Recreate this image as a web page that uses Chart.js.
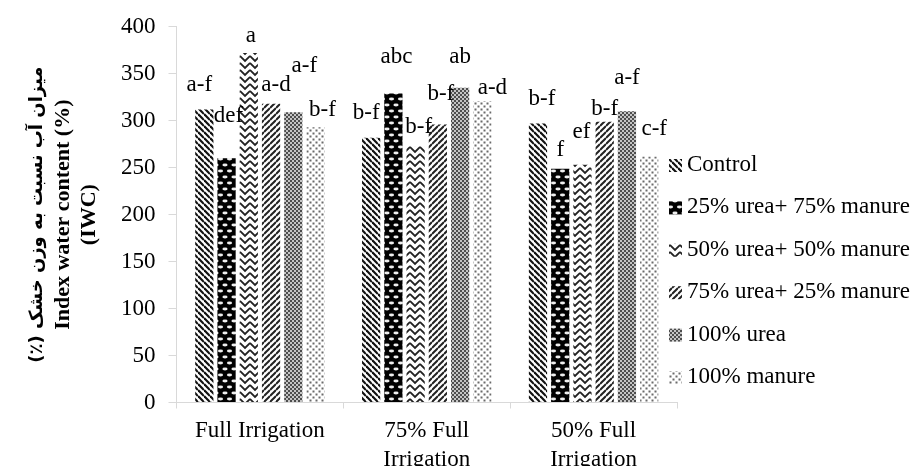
<!DOCTYPE html>
<html>
<head>
<meta charset="utf-8">
<script src="https://cdn.jsdelivr.net/npm/chart.js@4.4.1/dist/chart.umd.min.js"></script>
<style>
  html, body { margin: 0; padding: 0; background: #fff; overflow: hidden; }
  canvas { display: block; }
</style>
</head>
<body>
<canvas id="iwc" width="919" height="482"></canvas>
<script>
// irrigation levels (x categories)
const categories = ['Full Irrigation', ['75% Full', 'Irrigation'], ['50% Full', 'Irrigation']];
const seriesNames = ['Control', '25% urea+ 75% manure', '50% urea+ 50% manure', '75% urea+ 25% manure', '100% urea', '100% manure'];

// IWC values
const control    = [312, 282, 297];
const urea25     = [260, 329, 249];
const urea50     = [372, 273, 253];
const urea75     = [318, 296, 299];
const urea100    = [309, 335, 310];
const manure100  = [293, 321, 262];

// mean-comparison letters
const lettersControl   = ['a-f', 'b-f', 'b-f'];
const lettersUrea25    = ['def', 'abc', 'f'];
const lettersUrea50    = ['a', 'b-f', 'ef'];
const lettersUrea75    = ['a-d', 'b-f', 'b-f'];
const lettersUrea100   = ['a-f', 'ab', 'a-f'];
const lettersManure100 = ['b-f', 'a-d', 'c-f'];

const yTicks = [0, 50, 100, 150, 200, 250, 300, 350, 400];
const yTitlePersian = 'میزان آب نسبت به وزن خشک (٪)';
const yTitleEnglish = ['Index water content (%)', '(IWC)'];

const values = [control, urea25, urea50, urea75, urea100, manure100];
const letters = [lettersControl, lettersUrea25, lettersUrea50, lettersUrea75, lettersUrea100, lettersManure100];

const canvas = document.getElementById('iwc');
const ctx = canvas.getContext('2d');
const serif = "'Liberation Serif', 'Times New Roman', 'DejaVu Sans', serif";

// pattern fills, like the excel hatch fills
function tile(w, h, draw) {
  const c = document.createElement('canvas');
  c.width = w; c.height = h;
  const g = c.getContext('2d');
  draw(g, w, h);
  return ctx.createPattern(c, 'repeat');
}

const patterns = [
  // Control: \\\ stripes
  tile(6, 6, (g, s) => {
    g.fillStyle = '#fff'; g.fillRect(0, 0, s, s);
    g.strokeStyle = '#111'; g.lineWidth = 2.2;
    for (let k = -1; k <= 1; k++) { g.beginPath(); g.moveTo(0, k * s); g.lineTo(s, s + k * s); g.stroke(); }
  }),
  // 25/75: black with white ovals
  tile(9, 12, (g, w, h) => {
    g.fillStyle = '#000'; g.fillRect(0, 0, w, h);
    g.fillStyle = '#eee';
    [[4.5, 3], [0, 9], [9, 9]].forEach(p => {
      g.beginPath(); g.ellipse(p[0], p[1], 2.6, 1.4, 0, 0, Math.PI * 2); g.fill();
    });
  }),
  // 50/50: chevrons
  tile(10, 7, (g, w, h) => {
    g.fillStyle = '#fff'; g.fillRect(0, 0, w, h);
    g.strokeStyle = '#222'; g.lineWidth = 1.8;
    for (let k = -1; k <= 1; k++) {
      g.beginPath(); g.moveTo(0, k * h); g.lineTo(w / 2, k * h + w / 2); g.lineTo(w, k * h); g.stroke();
    }
  }),
  // 75/25: /// stripes
  tile(6, 6, (g, s) => {
    g.fillStyle = '#fff'; g.fillRect(0, 0, s, s);
    g.strokeStyle = '#222'; g.lineWidth = 2;
    for (let k = -1; k <= 1; k++) { g.beginPath(); g.moveTo(0, s + k * s); g.lineTo(s, k * s); g.stroke(); }
  }),
  // 100% urea: fine grey checker
  tile(4, 4, (g) => {
    g.fillStyle = '#4d4d4d'; g.fillRect(0, 0, 4, 4);
    g.fillStyle = '#c4c4c4'; g.fillRect(0, 0, 2, 2); g.fillRect(2, 2, 2, 2);
  }),
  // 100% manure: grey dots
  tile(6, 6, (g) => {
    g.fillStyle = '#fff'; g.fillRect(0, 0, 6, 6);
    g.fillStyle = '#6a6a6a'; g.fillRect(0.5, 0.5, 2, 2); g.fillRect(3.5, 3.5, 2, 2);
  })
];

// hand nudges of the letters (dx, dy from bar top), as in the source figure
const nudgeX = [[-5, -5, 4], [2, 3, 0], [2, 3, -1], [5, 3, 0], [11, 0, 0], [7, 10, 5]];
const nudgeY = [[-25, -25, -25], [-42, -37, -19], [-17, -19, -33], [-19, -31, -13], [-46, -31, -33], [-17, -13, -27]];

const titleLine = 26;
const titlePadTop = 20;

const letterPlugin = {
  id: 'letters',
  afterDatasetsDraw(chart) {
    const c = chart.ctx;
    c.save();
    c.font = '23px ' + serif;
    c.fillStyle = '#000';
    c.textAlign = 'center';
    c.textBaseline = 'middle';
    chart.data.datasets.forEach((ds, i) => {
      chart.getDatasetMeta(i).data.forEach((bar, j) => {
        c.fillText(letters[i][j], bar.x + nudgeX[i][j], bar.y + nudgeY[i][j]);
      });
    });
    c.restore();
  }
};

// persian first line of the y title, in its own (smaller) font
const persianTitlePlugin = {
  id: 'persianTitle',
  afterDraw(chart) {
    const y = chart.scales.y;
    const c = chart.ctx;
    c.save();
    c.translate(y.left + titlePadTop + titleLine / 2, (y.top + y.bottom) / 2);
    c.rotate(-Math.PI / 2);
    c.font = "bold 18px 'DejaVu Sans', sans-serif";
    c.direction = 'rtl';
    c.textAlign = 'center';
    c.textBaseline = 'middle';
    c.fillStyle = '#000';
    c.fillText(yTitlePersian, 0, 0);
    c.restore();
  }
};

const legendPlugin = {
  id: 'sideLegend',
  afterDraw(chart) {
    const c = chart.ctx;
    c.save();
    c.font = '23px ' + serif;
    c.textBaseline = 'middle';
    chart.data.datasets.forEach((ds, i) => {
      const y = 165 + i * 42.4;
      c.fillStyle = ds.backgroundColor;
      c.fillRect(669, y - 6, 13, 13);
      c.fillStyle = '#000';
      c.fillText(ds.label, 687, y);
    });
    c.restore();
  }
};

new Chart(ctx, {
  type: 'bar',
  data: {
    labels: categories,
    datasets: seriesNames.map((name, i) => ({
      label: name,
      data: values[i],
      backgroundColor: patterns[i],
      borderWidth: 0,
      categoryPercentage: 0.8,
      barPercentage: 0.82
    }))
  },
  options: {
    responsive: false,
    animation: false,
    layout: { padding: { left: 4, top: 23, right: 242, bottom: 0 } },
    plugins: {
      legend: { display: false },
      tooltip: { enabled: false }
    },
    scales: {
      x: {
        grid: { drawOnChartArea: false, color: '#d9d9d9', tickLength: 6 },
        border: { color: '#d9d9d9' },
        ticks: {
          color: '#000',
          font: { family: serif, size: 23, lineHeight: 1.25 },
          padding: 8,
          maxRotation: 0,
          autoSkip: false
        }
      },
      y: {
        min: 0,
        max: 400,
        afterBuildTicks: (axis) => { axis.ticks = yTicks.map(v => ({ value: v })); },
        grid: { drawOnChartArea: false, color: '#d9d9d9', tickLength: 8 },
        border: { color: '#d9d9d9' },
        ticks: { color: '#000', font: { family: serif, size: 23 }, padding: 13 },
        title: {
          display: true,
          // first line left blank: the persian line is drawn by persianTitlePlugin
          text: [' '].concat(yTitleEnglish),
          color: '#000',
          font: { family: serif, size: 22, weight: 'bold', lineHeight: titleLine / 22 },
          padding: { top: titlePadTop, bottom: 6 }
        }
      }
    }
  },
  plugins: [letterPlugin, persianTitlePlugin, legendPlugin]
});
</script>
</body>
</html>
